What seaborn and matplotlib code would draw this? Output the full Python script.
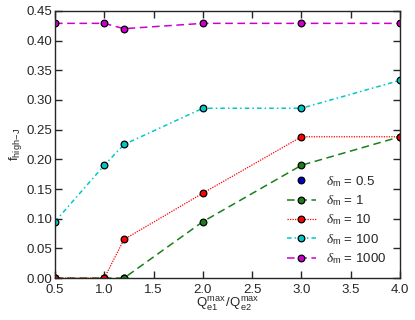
import numpy as np
import pandas as pd
import matplotlib
matplotlib.use("Agg")
import matplotlib.pyplot as plt
import seaborn as sns

# ratio Qe1max / Qe2max
ratio = [0.5, 1.0, 1.2, 2.0, 3.0, 4.0]

# f_high-J for each delta_m
f_d05 = [0.0, 0.0, 0.0]
f_d1 = [0.0, 0.0, 0.0, 0.095, 0.19, 0.238]
f_d10 = [0.0, 0.0, 0.065, 0.143, 0.238, 0.238]
f_d100 = [0.095, 0.19, 0.225, 0.286, 0.286, 0.333]
f_d1000 = [0.429, 0.429, 0.42, 0.429, 0.429, 0.429]

sns.set_style("ticks")
plt.rcParams['font.family'] = ['Liberation Sans', 'DejaVu Sans']
plt.rcParams['mathtext.fontset'] = 'custom'
plt.rcParams['mathtext.rm'] = 'Liberation Sans'
plt.rcParams['mathtext.it'] = 'Liberation Serif:italic'

fig = plt.figure(figsize=(4.15, 3.2), dpi=100)
ax = fig.add_axes([0.1325, 0.131, 0.8315, 0.835])

mk = dict(marker='o', markersize=4.8, markeredgecolor='black', markeredgewidth=0.9)

# delta_m = 0.5: markers only
sns.lineplot(x=ratio[:3], y=f_d05, ax=ax, color='#0000cc', linestyle='none',
             label=r'$\delta_{\rm m}$ = 0.5', **mk)
sns.lineplot(x=ratio, y=f_d1, ax=ax, color='#1a7f1a', dashes=(5, 3), lw=1.1,
             label=r'$\delta_{\rm m}$ = 1', **mk)
sns.lineplot(x=ratio, y=f_d10, ax=ax, color='#ff0000', dashes=(1, 1), lw=0.9,
             label=r'$\delta_{\rm m}$ = 10', **mk)
sns.lineplot(x=ratio, y=f_d100, ax=ax, color='#00c8c8', dashes=(3, 2, 1, 2), lw=1.1,
             label=r'$\delta_{\rm m}$ = 100', **mk)
sns.lineplot(x=ratio, y=f_d1000, ax=ax, color='#cc00cc', dashes=(5, 3), lw=1.1,
             label=r'$\delta_{\rm m}$ = 1000', **mk)

ax.set_xlim(0.5, 4.0)
ax.set_ylim(0.0, 0.45)
ax.set_xticks(np.arange(0.5, 4.01, 0.5))
ax.set_yticks(np.arange(0.0, 0.451, 0.05))
ax.set_xticklabels([f"{v:.1f}" for v in np.arange(0.5, 4.01, 0.5)])
ax.set_yticklabels([f"{v:.2f}" for v in np.arange(0.0, 0.451, 0.05)])
ax.tick_params(direction='in', top=True, right=True, length=5, width=1,
               labelsize=9.5)
ax.tick_params(axis='x', pad=4)
ax.tick_params(axis='y', pad=2)
for s in ax.spines.values():
    s.set_linewidth(1.0)

ax.set_xlabel(r'$\mathrm{Q_{e1}^{max}\,/Q_{e2}^{max}}$', fontsize=9.5, labelpad=0)
ax.set_ylabel(r'$\mathrm{f_{high\!-\!J}}$', fontsize=9.5, labelpad=2)

ax.legend(loc='lower right', bbox_to_anchor=(0.995, 0.0), frameon=False, fontsize=9.5,
          handlelength=2.2, handletextpad=0.8, labelspacing=0.35)

fig.savefig("out.png", dpi=100)
